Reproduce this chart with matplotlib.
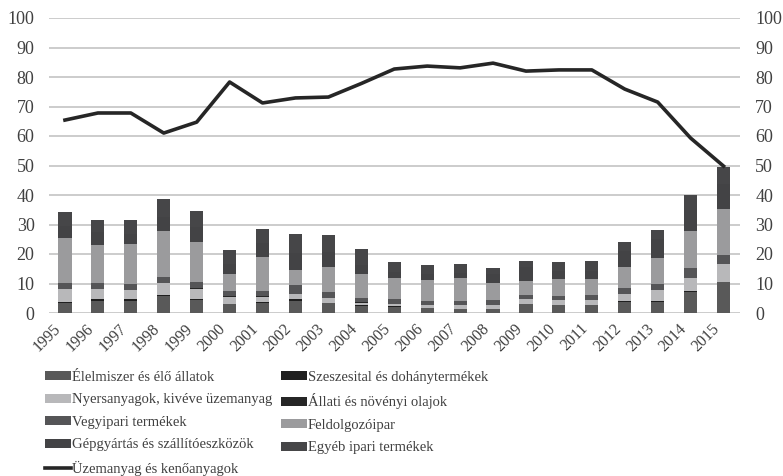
import matplotlib
matplotlib.use('Agg')
import matplotlib.pyplot as plt
import matplotlib.transforms as mtransforms
import numpy as np

plt.rcParams['font.family'] = ['Liberation Serif', 'DejaVu Serif']

years = [str(y) for y in range(1995, 2016)]

# shares (%), bottom to top of each stacked bar
elelmiszer = [3.5, 4.2, 4.2, 5.8, 4.4, 2.9, 3.3, 4.2, 3.3, 2.4, 2.2, 1.6, 1.4, 1.4, 3.0, 2.6, 2.7, 3.6, 3.6, 7.0, 10.4]
szeszesital = [0.3, 0.4, 0.4, 0.4, 0.4, 0.2, 0.4, 0.4, 0.2, 0.2, 0.1, 0.1, 0.1, 0.1, 0.1, 0.2, 0.1, 0.3, 0.4, 0.3, 0.2]
nyersanyag = [4.2, 3.5, 3.2, 3.9, 3.5, 2.4, 1.8, 1.7, 1.6, 0.9, 0.9, 1.1, 1.1, 1.3, 1.6, 1.5, 1.7, 2.5, 3.8, 4.6, 6.0]
allati = [0.1, 0.1, 0.1, 0.1, 0.1, 0.1, 0.1, 0.1, 0.1, 0.1, 0.0, 0.0, 0.0, 0.0, 0.0, 0.0, 0.0, 0.0, 0.0, 0.0, 0.0]
vegyipari = [2.1, 1.9, 1.9, 1.9, 2.0, 2.0, 2.0, 3.2, 2.0, 1.5, 1.7, 1.2, 1.4, 1.5, 1.5, 1.5, 1.6, 2.0, 2.0, 3.4, 3.2]
feldolgozo = [15.1, 13.1, 13.6, 15.8, 13.8, 5.7, 11.4, 5.1, 8.4, 8.2, 7.0, 7.2, 7.9, 5.8, 4.5, 5.7, 5.5, 7.1, 8.7, 12.5, 15.5]
gepgyartas = [4.1, 4.1, 3.5, 4.5, 4.8, 3.3, 4.6, 5.8, 5.0, 3.0, 2.1, 2.0, 1.7, 3.0, 4.8, 2.8, 2.8, 5.5, 6.7, 7.2, 8.4]
egyeb = [4.7, 4.3, 4.7, 6.2, 5.7, 4.7, 4.8, 6.2, 5.8, 5.5, 3.3, 3.0, 3.0, 2.0, 2.2, 2.9, 3.1, 3.0, 3.1, 5.1, 5.7]
uzemanyag = [65.4, 67.8, 67.8, 61.0, 64.7, 78.3, 71.2, 72.9, 73.2, 77.8, 82.7, 83.7, 83.1, 84.7, 82.0, 82.4, 82.4, 75.9, 71.5, 59.3, 49.8]

series = [
    ('Élelmiszer és élő állatok', elelmiszer, '#595959'),
    ('Szeszesital és dohánytermékek', szeszesital, '#1f1f1f'),
    ('Nyersanyagok, kivéve üzemanyag', nyersanyag, '#b8b8ba'),
    ('Állati és növényi olajok', allati, '#262626'),
    ('Vegyipari termékek', vegyipari, '#555557'),
    ('Feldolgozóipar', feldolgozo, '#9b9b9d'),
    ('Gépgyártás és szállítóeszközök', gepgyartas, '#434345'),
    ('Egyéb ipari termékek', egyeb, '#464648'),
]

fig = plt.figure(figsize=(7.83, 4.76), dpi=100)
ax = fig.add_axes([48.5 / 783, 1 - 313 / 476, (740 - 48.5) / 783, (313 - 18) / 476])

x = np.arange(len(years))
bottom = np.zeros(len(years))
handles = {}
for label, vals, color in series:
    b = ax.bar(x, vals, 0.4, bottom=bottom, color=color, label=label, zorder=2)
    handles[label] = b
    bottom += np.array(vals)

ax.set_ylim(0, 100)
ax.set_xlim(-0.5, len(years) - 0.5)
ax.set_yticks(range(0, 101, 10))
ax.yaxis.grid(True, color='#c8c8c8', linewidth=1.3, zorder=0)
ax.set_axisbelow(True)
for s in ax.spines.values():
    s.set_visible(False)
ax.tick_params(axis='both', length=0, labelsize=13, colors='#404040')
ax.tick_params(axis='y', pad=10)
ax.set_xticks(x)
ax.set_xticklabels(years, rotation=45, ha='right', rotation_mode='anchor', fontsize=11.5)
shift = mtransforms.ScaledTranslation(-8.5 / 72, -2 / 72, fig.dpi_scale_trans)
for t in ax.get_xticklabels():
    t.set_transform(t.get_transform() + shift)

ax2 = ax.twinx()
ax2.set_ylim(0, 100)
ax2.set_yticks(range(0, 101, 10))
for s in ax2.spines.values():
    s.set_visible(False)
ax2.tick_params(axis='y', length=0, labelsize=13, colors='#404040', pad=11)
line, = ax2.plot(x, uzemanyag, color='#262626', linewidth=2.6, label='Üzemanyag és kenőanyagok')

# legend rows as in the original (row by row, two columns)
order = [s[0] for s in series]
col1 = [handles[order[i]] for i in (0, 2, 4, 6)] + [line]
col2 = [handles[order[i]] for i in (1, 3, 5, 7)]
labels1 = [order[i] for i in (0, 2, 4, 6)] + [line.get_label()]
labels2 = [order[i] for i in (1, 3, 5, 7)]
kw = dict(loc='upper left', frameon=False, fontsize=10.5, handlelength=1.75, handleheight=0.6,
          handletextpad=0.1, labelspacing=0.65, borderaxespad=0, borderpad=0)
leg1 = fig.legend(col1, labels1, bbox_to_anchor=(45 / 783, 1 - 371 / 476), **kw)
leg2 = fig.legend(col2, labels2, bbox_to_anchor=(281 / 783, 1 - 371 / 476), **kw)
for leg in (leg1, leg2):
    for t in leg.get_texts():
        t.set_color('#404040')

fig.savefig('out.png', dpi=100)
